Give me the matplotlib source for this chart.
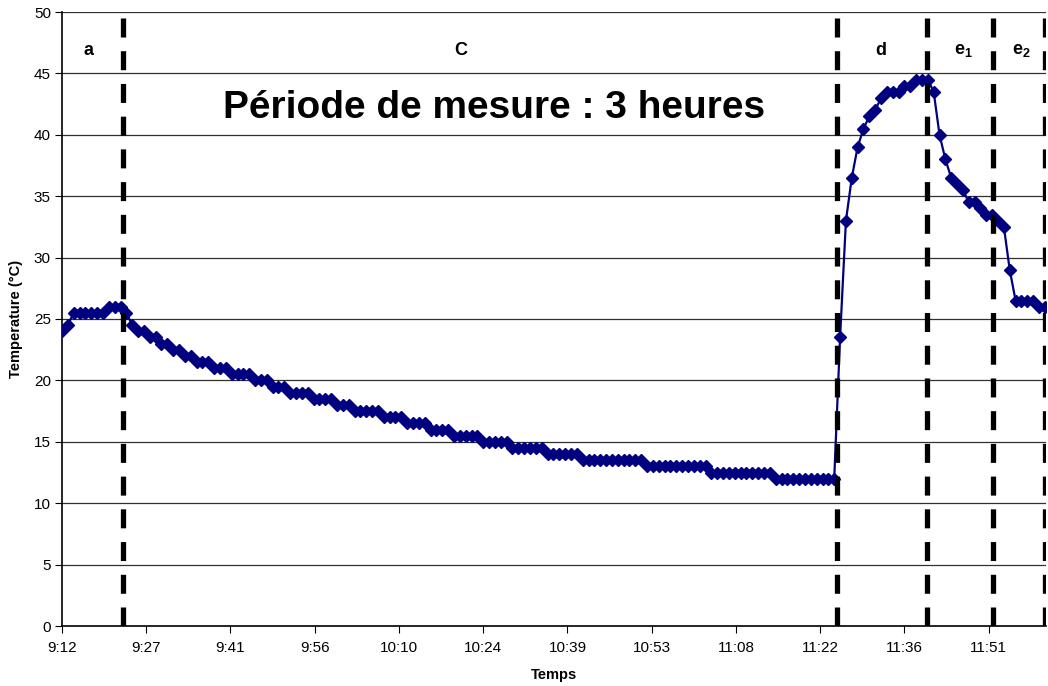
import matplotlib
matplotlib.use('Agg')
from matplotlib import pyplot as plt

plt.rcParams['font.family'] = ['Liberation Sans', 'DejaVu Sans']
plt.rcParams['mathtext.fontset'] = 'custom'
plt.rcParams['mathtext.rm'] = 'Liberation Sans'
plt.rcParams['mathtext.bf'] = 'Liberation Sans:bold'

# one reading per minute, starting 9:12
temps = [
    24, 24.5, 25.5, 25.5, 25.5, 25.5, 25.5, 25.5, 26, 26, 26, 25.5,
    24.5, 24, 24, 23.5, 23.5, 23, 23, 22.5, 22.5, 22, 22,
    21.5, 21.5, 21.5, 21, 21, 21, 20.5, 20.5, 20.5, 20.5,
    20, 20, 20, 19.5, 19.5, 19.5, 19, 19, 19, 19,
    18.5, 18.5, 18.5, 18.5, 18, 18, 18, 17.5, 17.5, 17.5, 17.5, 17.5,
    17, 17, 17, 17, 16.5, 16.5, 16.5, 16.5, 16, 16, 16, 16,
    15.5, 15.5, 15.5, 15.5, 15.5, 15, 15, 15, 15, 15,
    14.5, 14.5, 14.5, 14.5, 14.5, 14.5, 14, 14, 14, 14, 14, 14,
    13.5, 13.5, 13.5, 13.5, 13.5, 13.5, 13.5, 13.5, 13.5, 13.5, 13.5,
    13, 13, 13, 13, 13, 13, 13, 13, 13, 13, 13,
    12.5, 12.5, 12.5, 12.5, 12.5, 12.5, 12.5, 12.5, 12.5, 12.5, 12.5,
    12, 12, 12, 12, 12, 12, 12, 12, 12, 12, 12,
    23.5, 33, 36.5, 39, 40.5, 41.5, 42, 43, 43.5, 43.5, 43.5,
    44, 44, 44.5, 44.5, 44.5, 43.5, 40, 38, 36.5, 36, 35.5,
    34.5, 34.5, 34, 33.5, 33.5, 33, 32.5, 29, 26.5, 26.5, 26.5, 26.5,
    26, 26,
]
minutes = list(range(len(temps)))

tick_pos = [0, 14.4, 28.8, 43.2, 57.6, 72, 86.4, 100.8, 115.2, 129.6, 144, 158.4]
tick_labels = ['9:12', '9:27', '9:41', '9:56', '10:10', '10:24', '10:39',
               '10:53', '11:08', '11:22', '11:36', '11:51']

# phase boundaries (minutes after 9:12)
phase_bounds = [10.4, 132.4, 147.9, 159.1, 168.1]
phase_names = ['a', 'C', 'd', r'$\mathbf{e}_\mathbf{1}$', r'$\mathbf{e}_\mathbf{2}$']
phase_label_x = [4.5, 68.2, 140, 154, 163.9]

fig = plt.figure(figsize=(10.48, 6.86), dpi=100)
ax = fig.add_axes([62/1048, 60/686, 984/1048, 614/686])

ax.set_ylim(0, 50)
ax.set_xlim(0, 168.2)
ax.set_yticks(range(0, 51, 5))
for y in range(5, 51, 5):
    ax.axhline(y, color='#303030', lw=0.9, zorder=1)

ax.plot(minutes, temps, color='#000080', lw=1.6, marker='D', ms=6.5,
        zorder=3)

for xb in phase_bounds:
    ax.axvline(xb, color='black', lw=3.8, linestyle=(0, (3.6, 2.6)), zorder=4)

for name, xl in zip(phase_names, phase_label_x):
    ax.text(xl, 46.9, name, ha='center', va='center', fontsize=13,
            fontweight='bold')

ax.text(73.8, 42.2, 'Période de mesure : 3 heures', ha='center', va='center',
        fontsize=28, fontweight='bold')

ax.set_xticks(tick_pos)
ax.set_xticklabels(tick_labels)
ax.tick_params(axis='both', labelsize=11, direction='out', length=5,
               colors='black')
ax.tick_params(axis='x', pad=6)
ax.tick_params(axis='y', pad=3)
for side in ['top', 'right']:
    ax.spines[side].set_visible(False)
ax.spines['left'].set_linewidth(1.2)
ax.spines['bottom'].set_linewidth(1.2)

ax.set_xlabel('Temps', fontsize=10.5, fontweight='bold', labelpad=9)
ax.set_ylabel('Temperature (°C)', fontsize=10.5, fontweight='bold', labelpad=8)

fig.savefig('out.png', dpi=100)
